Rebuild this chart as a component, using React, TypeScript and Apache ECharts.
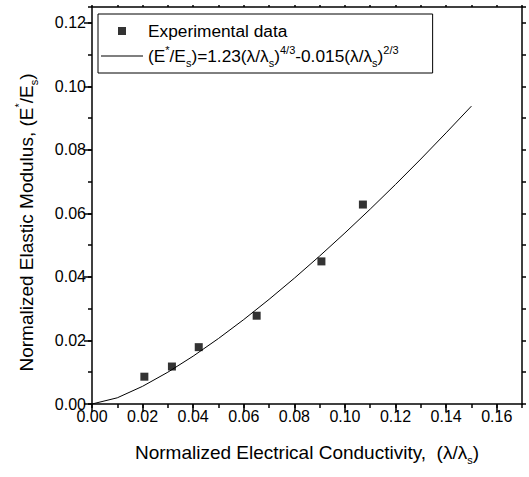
import React, { useEffect, useRef } from 'react';
import * as echarts from 'echarts';

const FONT = 'Liberation Sans';

const expX = [0.0207, 0.0316, 0.0422, 0.0651, 0.0907, 0.1071];
const expY = [0.0086, 0.0118, 0.0179, 0.0278, 0.0449, 0.0628];

// Fitted curve points
const fitX = [0, 0.01, 0.02, 0.03, 0.04, 0.05, 0.06, 0.07, 0.08, 0.09, 0.10, 0.11, 0.12, 0.13, 0.14, 0.15];
const fitY = [0, 0.00195, 0.00557, 0.01002, 0.01507, 0.02062, 0.02659, 0.03294, 0.03961, 0.04659, 0.05386, 0.06137, 0.06913, 0.07713, 0.08538, 0.09378];

const xMax = 0.17;
const yMax = 0.125;
const majorStep = 0.02;
const minorStep = 0.01;

const expName = 'Experimental data';
const fitName = '(E*/Es)=1.23(λ/λs)4/3-0.015(λ/λs)2/3';
const fitRich = '(E{sup|*}/E{sub|s})=1.23(λ/λ{sub|s}){sup|4/3}-0.015(λ/λ{sub|s}){sup|2/3}';
const xTitle = 'Normalized Electrical Conductivity,  (λ/λ{sub|s})';
const yTitle = 'Normalized Elastic Modulus, (E{sup|*}/E{sub|s})';

const richStyles = {
  sup: { fontSize: 11, fontFamily: FONT, color: '#000', verticalAlign: 'top', lineHeight: 12 },
  sub: { fontSize: 11, fontFamily: FONT, color: '#000', verticalAlign: 'bottom', lineHeight: 12 },
};

const black = '#000';

function makeAxis(max: number, extra: any) {
  return {
    type: 'value',
    min: 0,
    max,
    splitLine: { show: false },
    axisLine: { show: true, onZero: false, lineStyle: { color: black, width: 1.5 } },
    axisTick: { show: true, inside: false, lineStyle: { color: black, width: 1.5 } },
    axisLabel: { show: false },
    ...extra,
  };
}

export default function App() {
  const ref = useRef<HTMLDivElement>(null);
  useEffect(() => {
    document.body.style.margin = '0';
    const chart = echarts.init(ref.current!, null, { renderer: 'svg' });
    const labelStyle = {
      show: true,
      fontSize: 16,
      color: black,
      fontFamily: FONT,
      showMaxLabel: false,
      formatter: (v: number) => v.toFixed(2),
    };
    const option: any = {
      animation: false,
      backgroundColor: '#fff',
      textStyle: { fontFamily: FONT },
      grid: { left: 92, right: 7, top: 7, bottom: 73, containLabel: false },
      xAxis: [
        makeAxis(xMax, {
          position: 'bottom',
          interval: majorStep,
          axisTick: { show: true, length: 8, lineStyle: { color: black, width: 1.5 } },
          axisLabel: { ...labelStyle, margin: 4 },
          name: xTitle,
          nameLocation: 'middle',
          nameGap: 35,
          nameTextStyle: { fontSize: 19, color: black, fontFamily: FONT, lineHeight: 26, rich: richStyles },
        }),
        makeAxis(xMax, {
          position: 'bottom',
          interval: minorStep,
          axisLine: { show: false },
          axisTick: { show: true, length: 4, lineStyle: { color: black, width: 1.5 } },
        }),
        makeAxis(xMax, {
          position: 'top',
          interval: minorStep,
          axisTick: { show: true, length: 2, lineStyle: { color: black, width: 1.5 } },
        }),
      ],
      yAxis: [
        makeAxis(yMax, {
          position: 'left',
          interval: majorStep,
          axisTick: { show: true, length: 8, lineStyle: { color: black, width: 1.5 } },
          axisLabel: { ...labelStyle, margin: 6 },
          name: yTitle,
          nameLocation: 'middle',
          nameGap: 53,
          nameRotate: 90,
          nameTextStyle: { fontSize: 19, color: black, fontFamily: FONT, lineHeight: 26, rich: richStyles, padding: [0, 34, 0, 0] },
        }),
        makeAxis(yMax, {
          position: 'left',
          interval: minorStep,
          axisLine: { show: false },
          axisTick: { show: true, length: 4, lineStyle: { color: black, width: 1.5 } },
        }),
        makeAxis(yMax, {
          position: 'right',
          interval: minorStep,
          axisTick: { show: true, length: 4, lineStyle: { color: black, width: 1.5 } },
        }),
      ],
      legend: {
        orient: 'vertical',
        left: 98,
        top: 14,
        padding: [5, 34, 5, 3],
        itemGap: 1,
        itemWidth: 42,
        itemHeight: 8,
        borderColor: black,
        borderWidth: 1,
        borderRadius: 0,
        backgroundColor: '#fff',
        textStyle: { fontSize: 17.3, color: black, fontFamily: FONT, lineHeight: 24, rich: richStyles },
        formatter: (name: string) => (name === fitName ? fitRich : name),
        data: [
          { name: expName, icon: 'path://M0,0L1,0L1,1L0,1Z' },
          { name: fitName, icon: 'path://M0,0L42,0L42,1L0,1Z' },
        ],
      },
      series: [
        {
          name: expName,
          type: 'scatter',
          symbol: 'rect',
          symbolSize: 8,
          itemStyle: { color: black },
          data: expX.map((x, i) => [x, expY[i]]),
          z: 3,
        },
        {
          name: fitName,
          type: 'line',
          symbol: 'none',
          showSymbol: false,
          smooth: false,
          lineStyle: { color: black, width: 1 },
          itemStyle: { color: black },
          data: fitX.map((x, i) => [x, fitY[i]]),
          z: 2,
        },
      ],
    };
    chart.setOption(option);
    return () => chart.dispose();
  }, []);
  return <div ref={ref} style={{ width: 529, height: 477 }} />;
}
